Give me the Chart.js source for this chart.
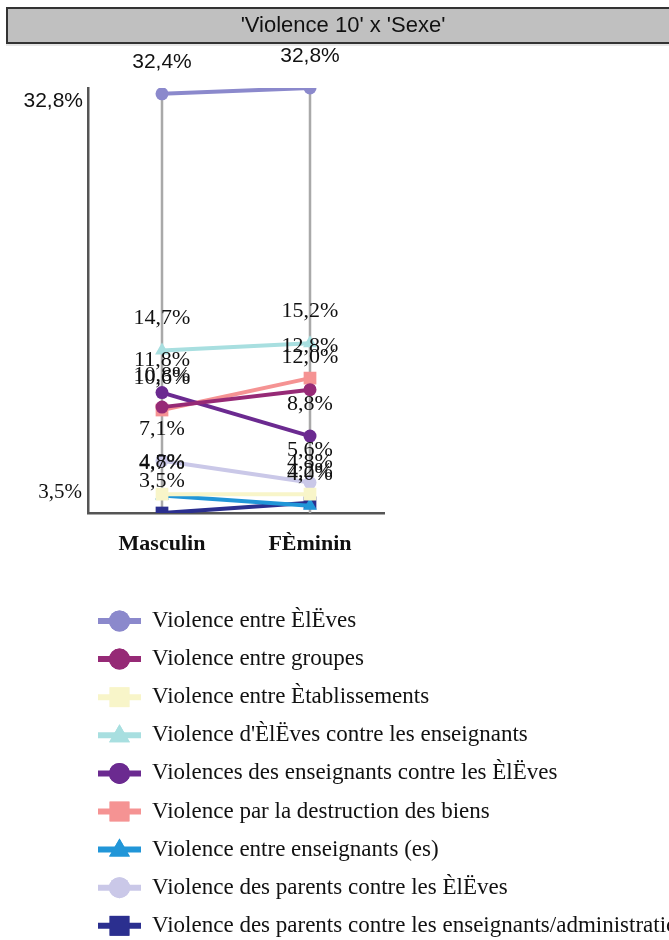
<!DOCTYPE html>
<html>
<head>
<meta charset="utf-8">
<script src="https://cdn.jsdelivr.net/npm/chart.js@4.4.1/dist/chart.umd.min.js"></script>
<style>
html,body{margin:0;padding:0;background:#fff;}
#wrap{width:669px;height:940px;position:relative;}
</style>
</head>
<body>
<div id="wrap"><canvas id="c" width="669" height="940"></canvas></div>
<script>
const TITLE = "'Violence 10' x 'Sexe'";
const categories = ["Masculin", "FÈminin"];
const seriesNames = [
  "Violence entre ÈlËves",
  "Violence entre groupes",
  "Violence entre Ètablissements",
  "Violence d'ÈlËves contre les enseignants",
  "Violences des enseignants contre les ÈlËves",
  "Violence par la destruction des biens",
  "Violence entre enseignants (es)",
  "Violence des parents contre les ÈlËves",
  "Violence des parents contre les enseignants/administration"
];
const masculin = [32.4, 10.8, 4.8, 14.7, 11.8, 10.6, 4.7, 7.1, 3.5];
const feminin  = [32.8, 12.0, 4.8, 15.2, 8.8, 12.8, 4.0, 5.6, 4.2];
const yTicks = [3.5, 32.8];
const colors = ["#8b89cc", "#962a76", "#f8f5c9", "#a8dfe0", "#6b2a90", "#f59393", "#2196d8", "#cac8e8", "#2b2f8f"];
const pointStyles = ["circle", "circle", "rect", "triangle", "circle", "rect", "triangle", "circle", "rect"];

const SERIF = "'Liberation Serif', 'DejaVu Serif', serif";
const SANS = "'Liberation Sans', Arial, sans-serif";
const fmt = v => v.toFixed(1).replace('.', ',') + '%';

function ptRadius(style){ return style === 'rect' ? 9 : (style === 'triangle' ? 8 : 6.5); }

const datasets = seriesNames.map((name, i) => ({
  label: name,
  data: [masculin[i], feminin[i]],
  borderColor: colors[i],
  backgroundColor: colors[i],
  pointBackgroundColor: colors[i],
  pointBorderColor: colors[i],
  pointStyle: pointStyles[i],
  pointRadius: ptRadius(pointStyles[i]),
  pointBorderWidth: 0,
  borderWidth: 4,
  tension: 0,
  fill: false
}));

const framePlugin = {
  id: 'frame',
  beforeDraw(chart){
    const ctx = chart.ctx;
    ctx.save();
    ctx.fillStyle = '#fff';
    ctx.fillRect(0,0,chart.width,chart.height);
    // title bar
    ctx.fillStyle = '#e6e6e6';
    ctx.fillRect(6, 43, chart.width, 3);
    ctx.fillStyle = '#c0c0c0';
    ctx.fillRect(7, 8, chart.width, 35);
    ctx.strokeStyle = '#333';
    ctx.lineWidth = 2;
    ctx.strokeRect(7, 8, chart.width + 10, 35);
    ctx.fillStyle = '#111';
    ctx.font = '22px ' + SANS;
    ctx.textAlign = 'center';
    ctx.textBaseline = 'middle';
    ctx.fillText(TITLE, 343, 26);
    ctx.restore();
  },
  beforeDatasetsDraw(chart){
    const ctx = chart.ctx;
    const area = chart.chartArea;
    ctx.save();
    ctx.strokeStyle = '#a9a9a9';
    ctx.lineWidth = 2.5;
    for (let j = 0; j < categories.length; j++){
      let minY = Infinity, x = null;
      chart.data.datasets.forEach((d, i) => {
        const el = chart.getDatasetMeta(i).data[j];
        if (el){ minY = Math.min(minY, el.y); x = el.x; }
      });
      ctx.beginPath();
      ctx.moveTo(x, minY);
      ctx.lineTo(x, area.bottom);
      ctx.stroke();
    }
    ctx.restore();
  },
  afterDraw(chart){
    const ctx = chart.ctx;
    ctx.save();
    // y tick labels
    const ys = chart.scales.y;
    ctx.fillStyle = '#111';
    ctx.textAlign = 'right';
    ctx.textBaseline = 'middle';
    ys.ticks.forEach((t, k) => {
      const py = ys.getPixelForValue(t.value);
      if (k === 0){
        ctx.font = '21px ' + SERIF;
        ctx.fillText(fmt(t.value), 82, py - 21);
      } else {
        ctx.font = '21px ' + SANS;
        ctx.fillText(fmt(t.value), 83, py + 13);
      }
    });
    // data labels
    ctx.textAlign = 'center';
    ctx.textBaseline = 'middle';
    chart.data.datasets.forEach((d, i) => {
      const meta = chart.getDatasetMeta(i);
      meta.data.forEach((el, j) => {
        ctx.font = (i === 0 ? '21px ' + SANS : '22px ' + SERIF);
        ctx.fillStyle = '#111';
        ctx.fillText(fmt(d.data[j]), el.x, el.y - 32);
      });
    });
    // legend
    const lx0 = 98, lx1 = 141, lxm = 119.5, tx = 152, ly0 = 621, step = 38.1;
    chart.data.datasets.forEach((d, i) => {
      const y = ly0 + i * step;
      ctx.strokeStyle = d.borderColor;
      ctx.lineWidth = 6;
      ctx.beginPath();
      ctx.moveTo(lx0, y);
      ctx.lineTo(lx1, y);
      ctx.stroke();
      ctx.fillStyle = d.borderColor;
      const st = d.pointStyle;
      const r = st === 'rect' ? 14 : (st === 'triangle' ? 12 : 10.5);
      Chart.helpers.drawPoint(ctx, {pointStyle: st, radius: r, rotation: 0, borderWidth: 0}, lxm, st === 'triangle' ? y + 1 : y);
      ctx.fill();
      ctx.fillStyle = '#111';
      ctx.font = '23px ' + SERIF;
      ctx.textAlign = 'left';
      ctx.textBaseline = 'middle';
      ctx.fillText(d.label, tx, y);
    });
    ctx.restore();
  }
};

new Chart(document.getElementById('c'), {
  type: 'line',
  data: { labels: categories, datasets },
  options: {
    responsive: false,
    animation: false,
    devicePixelRatio: 1,
    layout: { padding: { top: 88, left: 0, right: 285, bottom: 367 } },
    plugins: { legend: { display: false }, title: { display: false }, tooltip: { enabled: false } },
    scales: {
      x: {
        type: 'category',
        offset: true,
        grid: { display: false, drawTicks: false },
        border: { display: true, color: '#555', width: 2.5 },
        ticks: { color: '#111', font: { family: SERIF, size: 22, weight: 'bold' }, padding: 18, maxRotation: 0 },
        afterFit(s){ s.height = 60; }
      },
      y: {
        min: 3.5,
        max: 32.8,
        grid: { display: false, drawTicks: false },
        border: { display: true, color: '#555', width: 2.5 },
        ticks: { display: false },
        afterBuildTicks(s){ s.ticks = yTicks.map(v => ({ value: v })); },
        afterFit(s){ s.width = 88; }
      }
    }
  },
  plugins: [framePlugin]
});
</script>
</body>
</html>
